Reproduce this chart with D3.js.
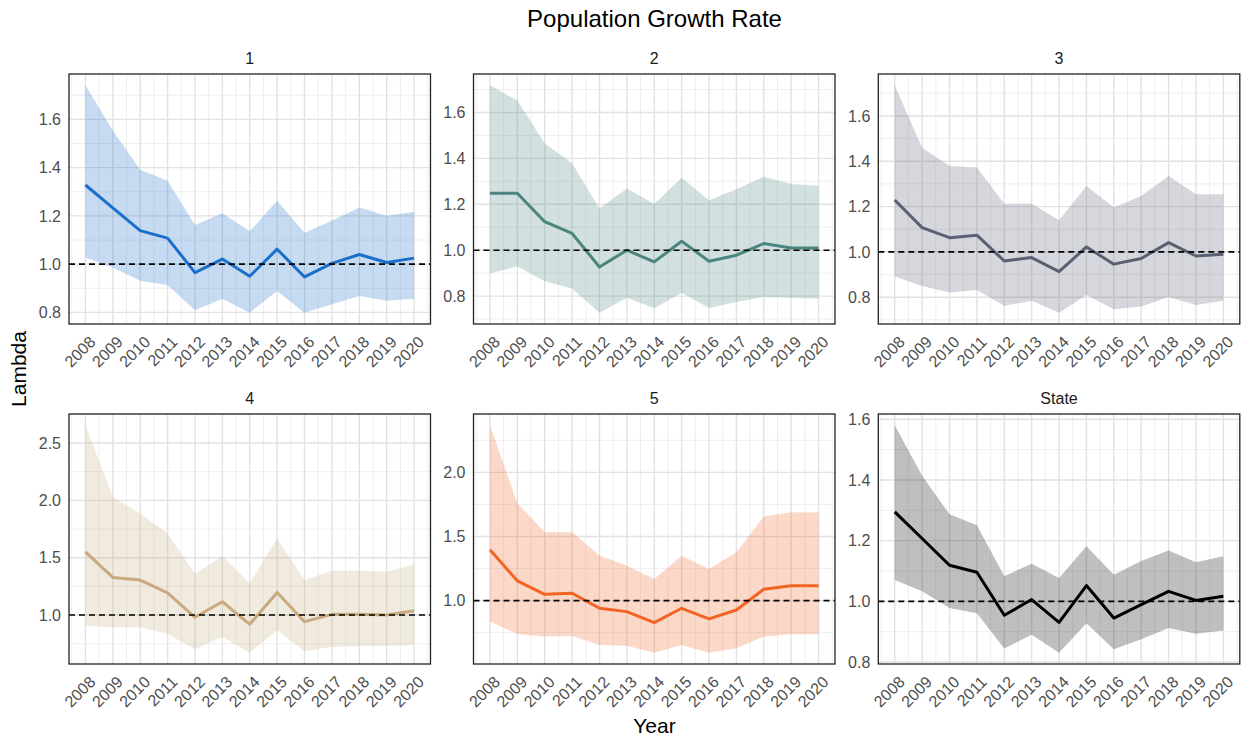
<!DOCTYPE html>
<html><head><meta charset="utf-8">
<script src="https://cdn.jsdelivr.net/npm/d3@7"></script>
<style>body{margin:0;background:#fff;} text{font-family:"Liberation Sans",Arial,sans-serif;}</style>
</head><body><svg id="c" width="1244" height="740"></svg>
<script>
const years = [2008,2009,2010,2011,2012,2013,2014,2015,2016,2017,2018,2019,2020];
const panelNames = ["1","2","3","4","5","State"];

const mean1  = [1.328,1.233,1.139,1.108,0.965,1.021,0.950,1.062,0.947,1.003,1.040,1.007,1.025];
const upper1 = [1.741,1.554,1.391,1.346,1.162,1.211,1.136,1.263,1.130,1.180,1.235,1.201,1.217];
const lower1 = [1.028,0.986,0.931,0.914,0.809,0.857,0.799,0.889,0.799,0.834,0.868,0.848,0.857];

const mean2  = [1.248,1.248,1.124,1.073,0.927,1.000,0.949,1.039,0.952,0.978,1.029,1.010,1.010];
const upper2 = [1.718,1.652,1.466,1.379,1.182,1.269,1.201,1.316,1.218,1.265,1.320,1.288,1.281];
const lower2 = [0.898,0.930,0.865,0.833,0.728,0.793,0.747,0.815,0.748,0.774,0.796,0.793,0.789];

const mean3  = [1.229,1.107,1.063,1.074,0.960,0.975,0.913,1.022,0.946,0.971,1.041,0.982,0.990];
const upper3 = [1.735,1.460,1.379,1.372,1.213,1.213,1.140,1.291,1.196,1.247,1.335,1.254,1.254];
const lower3 = [0.891,0.850,0.821,0.832,0.762,0.784,0.732,0.810,0.747,0.759,0.801,0.766,0.784];

const mean4  = [1.551,1.328,1.305,1.194,0.980,1.116,0.919,1.197,0.942,1.006,1.006,1.000,1.038];
const upper4 = [2.654,2.030,1.885,1.711,1.363,1.513,1.276,1.667,1.305,1.386,1.386,1.377,1.441];
const lower4 = [0.907,0.893,0.893,0.835,0.701,0.811,0.672,0.869,0.681,0.724,0.730,0.730,0.739];

const mean5  = [1.396,1.154,1.049,1.057,0.940,0.914,0.828,0.940,0.857,0.927,1.089,1.115,1.115];
const upper5 = [2.367,1.760,1.534,1.534,1.352,1.271,1.169,1.349,1.247,1.378,1.656,1.690,1.688];
const lower5 = [0.836,0.740,0.719,0.724,0.654,0.648,0.594,0.654,0.594,0.628,0.719,0.737,0.740];

const mean6  = [1.295,1.207,1.119,1.096,0.954,1.006,0.931,1.052,0.945,0.989,1.033,1.003,1.017];
const upper6 = [1.580,1.414,1.287,1.251,1.083,1.124,1.077,1.182,1.088,1.133,1.168,1.129,1.149];
const lower6 = [1.070,1.033,0.978,0.961,0.845,0.890,0.831,0.928,0.842,0.875,0.912,0.893,0.904];

const yTicksSmall = [0.8,1.0,1.2,1.4,1.6];
const yTicksLarge = [1.0,1.5,2.0,2.5];
const refValue = 1.0;

const lineColors = ["#1a6fca","#4a8580","#5a6073","#c9aa7f","#f26423","#000000"];

const means = [mean1,mean2,mean3,mean4,mean5,mean6];
const uppers = [upper1,upper2,upper3,upper4,upper5,upper6];
const lowers = [lower1,lower2,lower3,lower4,lower5,lower6];
const tickSets = [yTicksSmall,yTicksSmall,yTicksSmall,yTicksLarge,yTicksLarge,yTicksSmall];

const svg = d3.select("#c");
const W = 361.5, H = 250;
const lefts = [69, 473.5, 878.3], tops = [74, 414];
const fmt = d3.format(".1f");

svg.append("text").attr("x", 654.5).attr("y", 27).attr("text-anchor","middle")
  .attr("font-size", 24).attr("fill","#000").text("Population Growth Rate");
svg.append("text").attr("x", 654.5).attr("y", 733).attr("text-anchor","middle")
  .attr("font-size", 21).attr("fill","#000").text("Year");
svg.append("text").attr("transform","translate(26,369) rotate(-90)").attr("text-anchor","middle")
  .attr("font-size", 21).attr("fill","#000").text("Lambda");

panelNames.forEach((name, i) => {
  const x0 = lefts[i % 3], y0 = tops[Math.floor(i / 3)];
  const g = svg.append("g").attr("transform", `translate(${x0},${y0})`);
  const mean = means[i], up = uppers[i], lo = lowers[i];
  const data = years.map((yr, k) => ({yr, m: mean[k], u: up[k], l: lo[k]}));
  const lmin = d3.min(lo), umax = d3.max(up), pad = (umax - lmin) * 0.05;
  const y = d3.scaleLinear().domain([lmin - pad, umax + pad]).range([H, 0]);
  const x = d3.scalePoint().domain(years).range([0, W]).padding(0.6);
  const step = x.step();

  const ticks = tickSets[i].filter(t => t >= y.domain()[0] && t <= y.domain()[1]);
  const tstep = tickSets[i][1] - tickSets[i][0];
  const minorY = [];
  for (let t = tickSets[i][0] - tstep / 2; t <= tickSets[i][tickSets[i].length - 1] + tstep; t += tstep) {
    if (t > y.domain()[0] && t < y.domain()[1]) minorY.push(t);
  }
  const minorX = [x(years[0]) - step / 2].concat(years.map(yr => x(yr) + step / 2)).filter(v => v > 0 && v < W);

  g.selectAll(".mgy").data(minorY).enter().append("line")
    .attr("x1", 0).attr("x2", W).attr("y1", d => y(d)).attr("y2", d => y(d))
    .attr("stroke", "#ececec").attr("stroke-width", 0.9);
  g.selectAll(".mgx").data(minorX).enter().append("line")
    .attr("y1", 0).attr("y2", H).attr("x1", d => d).attr("x2", d => d)
    .attr("stroke", "#ececec").attr("stroke-width", 0.9);
  g.selectAll(".gy").data(ticks).enter().append("line")
    .attr("x1", 0).attr("x2", W).attr("y1", d => y(d)).attr("y2", d => y(d))
    .attr("stroke", "#e2e2e2").attr("stroke-width", 1.4);
  g.selectAll(".gx").data(years).enter().append("line")
    .attr("y1", 0).attr("y2", H).attr("x1", d => x(d)).attr("x2", d => x(d))
    .attr("stroke", "#e2e2e2").attr("stroke-width", 1.4);

  g.append("path").datum(data)
    .attr("d", d3.area().x(d => x(d.yr)).y0(d => y(d.l)).y1(d => y(d.u)))
    .attr("fill", lineColors[i]).attr("fill-opacity", 0.25);
  g.append("path").datum(data)
    .attr("d", d3.line().x(d => x(d.yr)).y(d => y(d.m)))
    .attr("fill", "none").attr("stroke", lineColors[i]).attr("stroke-width", 3)
    .attr("stroke-linejoin", "round");
  g.append("line").attr("x1", 0).attr("x2", W).attr("y1", y(refValue)).attr("y2", y(refValue))
    .attr("stroke", "#000").attr("stroke-width", 1.6).attr("stroke-dasharray", "6,4");
  g.append("rect").attr("width", W).attr("height", H).attr("fill", "none")
    .attr("stroke", "#222").attr("stroke-width", 1.3);

  g.selectAll(".yl").data(ticks).enter().append("text")
    .attr("x", -8).attr("y", d => y(d)).attr("dy", "0.36em").attr("text-anchor", "end")
    .attr("font-size", 16).attr("fill", "#4d4d4d").text(d => fmt(d));
  g.selectAll(".xl").data(years).enter().append("text")
    .attr("transform", d => `translate(${x(d) + 11},${H + 19}) rotate(-45)`)
    .attr("text-anchor", "end").attr("font-size", 16).attr("fill", "#4d4d4d").text(d => d);
  g.append("text").attr("x", W / 2).attr("y", -10).attr("text-anchor", "middle")
    .attr("font-size", 16).attr("fill", "#1a1a1a").text(name);
});
</script></body></html>
